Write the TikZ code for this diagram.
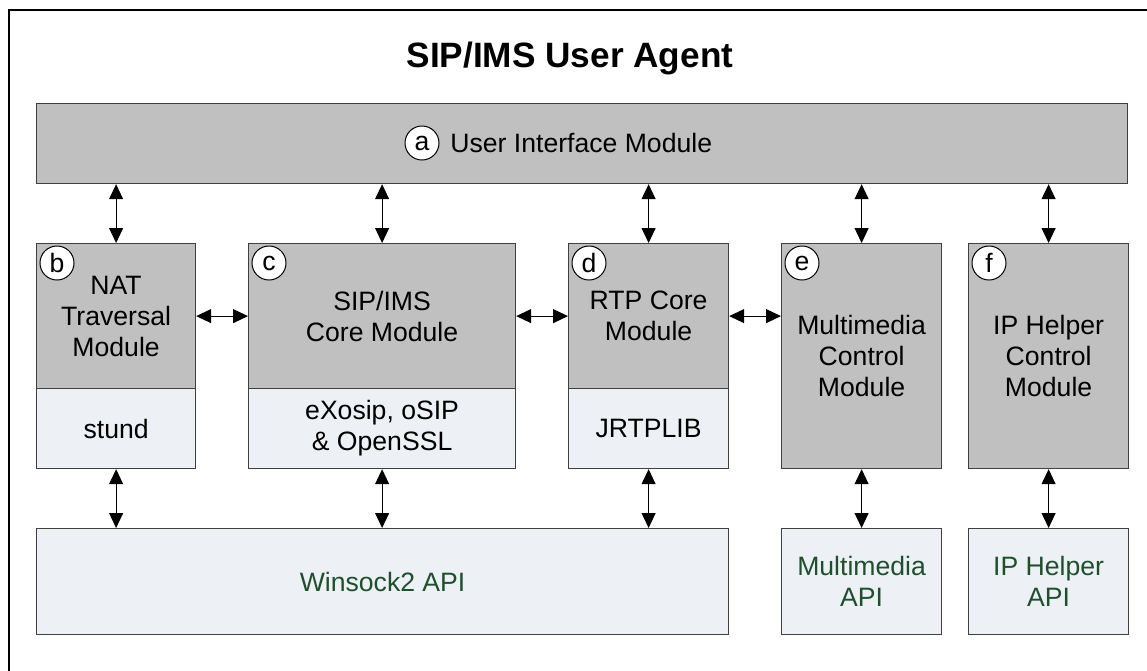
\documentclass[tikz,border=0pt]{standalone}
\usepackage{fontspec}
\setmainfont{Liberation Sans}
\usetikzlibrary{arrows.meta}
\definecolor{modgray}{RGB}{192,192,192}
\definecolor{libblue}{RGB}{237,240,245}
\definecolor{apigreen}{RGB}{30,80,45}
\definecolor{edgegray}{RGB}{64,64,64}
\begin{document}
\begin{tikzpicture}[x=0.5pt,y=-0.5pt,
	modbox/.style={draw=edgegray,line width=0.6pt,fill=modgray,anchor=north west,inner sep=0pt,align=center,font=\fontsize{13.3}{15.5}\selectfont},
	libbox/.style={modbox,fill=libblue},
	apibox/.style={libbox,text=apigreen},
	tag/.style={circle,draw=black,fill=white,line width=0.5pt,minimum size=17pt,inner sep=0pt,font=\fontsize{13.3}{15.5}\selectfont},
	link/.style={{Triangle[length=7.5pt,width=7pt]}-{Triangle[length=7.5pt,width=7pt]},line width=0.5pt}]
		\useasboundingbox (0,0) rectangle (1147,670);
		\fill[white] (0,0) rectangle (1147,670);
		\draw[line width=1pt] (9,10) rectangle (1170,700);
		\node[anchor=base,font=\fontsize{17.6}{20}\selectfont\bfseries] (title) at (570,67) {SIP/IMS User Agent};
		\node[modbox,minimum width=545.5pt,minimum height=40pt] (ui) at (36,103) {};
		\node[tag] (taga) at (422,143) {a};
		\node[anchor=base west,inner sep=0pt,font=\fontsize{13.3}{15.5}\selectfont] (uitext) at (450,152) {User Interface Module};
		\node[modbox,minimum width=79.5pt,minimum height=72.5pt] (nat) at (36,243) {NAT\\Traversal\\Module};
		\node[libbox,minimum width=79.5pt,minimum height=40pt] (stund) at (36,388) {stund};
		\node[modbox,minimum width=133.5pt,minimum height=72.5pt] (sip) at (248,243) {SIP/IMS\\Core Module};
		\node[libbox,minimum width=133.5pt,minimum height=40pt] (osip) at (248,388) {eXosip, oSIP\\\& OpenSSL};
		\node[modbox,minimum width=80pt,minimum height=72.5pt] (rtp) at (568,243) {RTP Core\\Module};
		\node[libbox,minimum width=80pt,minimum height=40pt] (jrtp) at (568,388) {JRTPLIB};
		\node[modbox,minimum width=80pt,minimum height=112.5pt] (mmc) at (781,243) {Multimedia\\Control\\Module};
		\node[modbox,minimum width=80pt,minimum height=112.5pt] (iphc) at (968,243) {IP Helper\\Control\\Module};
		\node[apibox,minimum width=346pt,minimum height=53pt] (ws) at (36,528) {Winsock2 API};
		\node[apibox,minimum width=80pt,minimum height=53pt] (mmapi) at (781,528) {Multimedia\\API};
		\node[apibox,minimum width=80pt,minimum height=53pt] (ipapi) at (968,528) {IP Helper\\API};
		\node[tag] (tagb) at ([xshift=10.5pt,yshift=-10pt]nat.north west) {b};
		\node[tag] (tagc) at ([xshift=10.5pt,yshift=-10pt]sip.north west) {c};
		\node[tag] (tagd) at ([xshift=10.5pt,yshift=-10pt]rtp.north west) {d};
		\node[tag] (tage) at ([xshift=10.5pt,yshift=-10pt]mmc.north west) {e};
		\node[tag] (tagf) at ([xshift=10.5pt,yshift=-10pt]iphc.north west) {f};
		\draw[link] (nat.north |- ui.south) -- (nat.north);
		\draw[link] (sip.north |- ui.south) -- (sip.north);
		\draw[link] (rtp.north |- ui.south) -- (rtp.north);
		\draw[link] (mmc.north |- ui.south) -- (mmc.north);
		\draw[link] (iphc.north |- ui.south) -- (iphc.north);
		\draw[link] (nat.east) -- (sip.west);
		\draw[link] (sip.east) -- (rtp.west);
		\draw[link] (rtp.east) -- (rtp.east -| mmc.west);
		\draw[link] (stund.south) -- (stund.south |- ws.north);
		\draw[link] (osip.south) -- (osip.south |- ws.north);
		\draw[link] (jrtp.south) -- (jrtp.south |- ws.north);
		\draw[link] (mmc.south) -- (mmapi.north);
		\draw[link] (iphc.south) -- (ipapi.north);
	\end{tikzpicture}
\end{document}
